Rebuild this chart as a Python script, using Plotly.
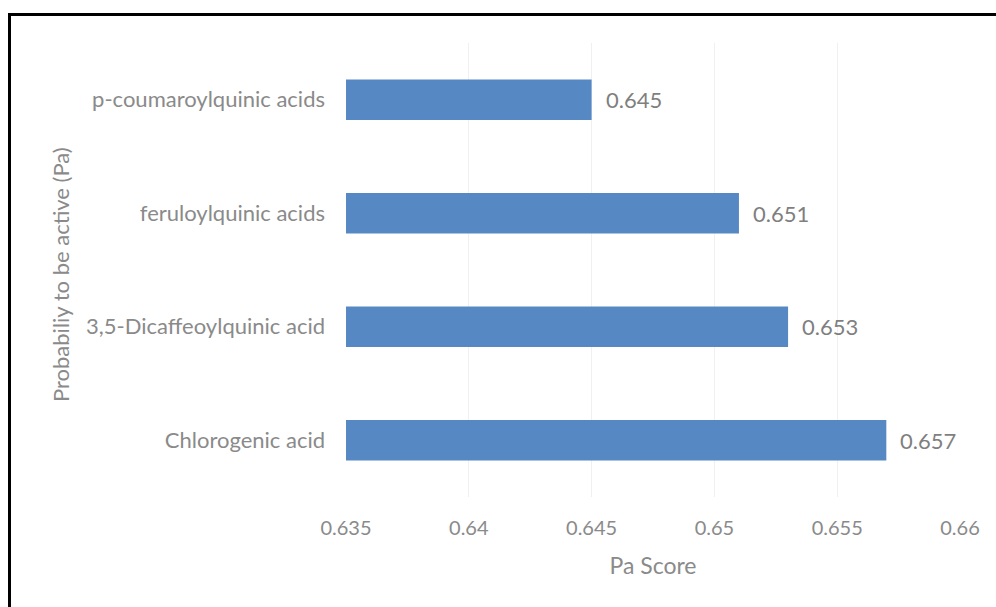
import plotly.graph_objects as go

categories = ["Chlorogenic acid", "3,5-Dicaffeoylquinic acid", "feruloylquinic acids", "p-coumaroylquinic acids"]
pa_scores = [0.657, 0.653, 0.651, 0.645]
x_ticks = [0.635, 0.64, 0.645, 0.65, 0.655, 0.66]
x_tick_labels = ["0.635", "0.64", "0.645", "0.65", "0.655", "0.66"]
y_title = "Probabiliy to be active (Pa)"
x_title = "Pa Score"

FONT = "Lato"
GRAY = "#8a8a8a"
BAR = "#5689c4"

W, H = 996, 607
L, R, T, B = 346, 36, 43, 110
pw = W - L - R
ph = H - T - B

fig = go.Figure()
fig.add_trace(go.Bar(
    x=pa_scores, y=categories, orientation="h",
    marker=dict(color=BAR, line=dict(width=0)),
    hoverinfo="skip",
))

for v, c in zip(pa_scores, categories):
    fig.add_annotation(x=v, y=c, text=f"{v:.3f}", showarrow=False,
                       xanchor="left", xshift=12,
                       font=dict(family=FONT, size=22, color="#7f7f7f"))

# y-axis title placed as rotated annotation
fig.add_annotation(xref="paper", yref="paper",
                   x=(60 - L) / pw, y=(H - B - 275) / ph,
                   text=y_title, textangle=-90, showarrow=False,
                   xanchor="center", yanchor="middle",
                   font=dict(family=FONT, size=22, color=GRAY))

# outer frame (left and top edges visible)
x0 = (9.5 - L) / pw
y1 = (H - B - 14.5) / ph
fig.add_shape(type="rect", xref="paper", yref="paper",
              x0=x0, x1=(W + 20 - L) / pw, y0=(H - B - (H + 20)) / ph, y1=y1,
              line=dict(color="black", width=3), fillcolor="rgba(0,0,0,0)")

fig.update_layout(
    width=W, height=H,
    margin=dict(l=L, r=R, t=T, b=B, autoexpand=False),
    paper_bgcolor="white", plot_bgcolor="white",
    bargap=0.645,
    showlegend=False,
    font=dict(family=FONT, size=20, color=GRAY),
    xaxis=dict(
        range=[0.635, 0.66], tickvals=x_ticks, ticktext=x_tick_labels,
        showgrid=True, gridcolor="#f0f0f0", gridwidth=1, zeroline=False,
        showline=False, ticks="", ticklabelstandoff=17,
        tickfont=dict(family=FONT, size=20, color=GRAY),
        title=dict(text=x_title, font=dict(family=FONT, size=23, color=GRAY), standoff=19),
    ),
    yaxis=dict(
        showgrid=False, zeroline=False, showline=False, ticks="",
        ticklabelstandoff=20,
        tickfont=dict(family=FONT, size=22, color=GRAY),
    ),
)

fig.write_html("out.html")
